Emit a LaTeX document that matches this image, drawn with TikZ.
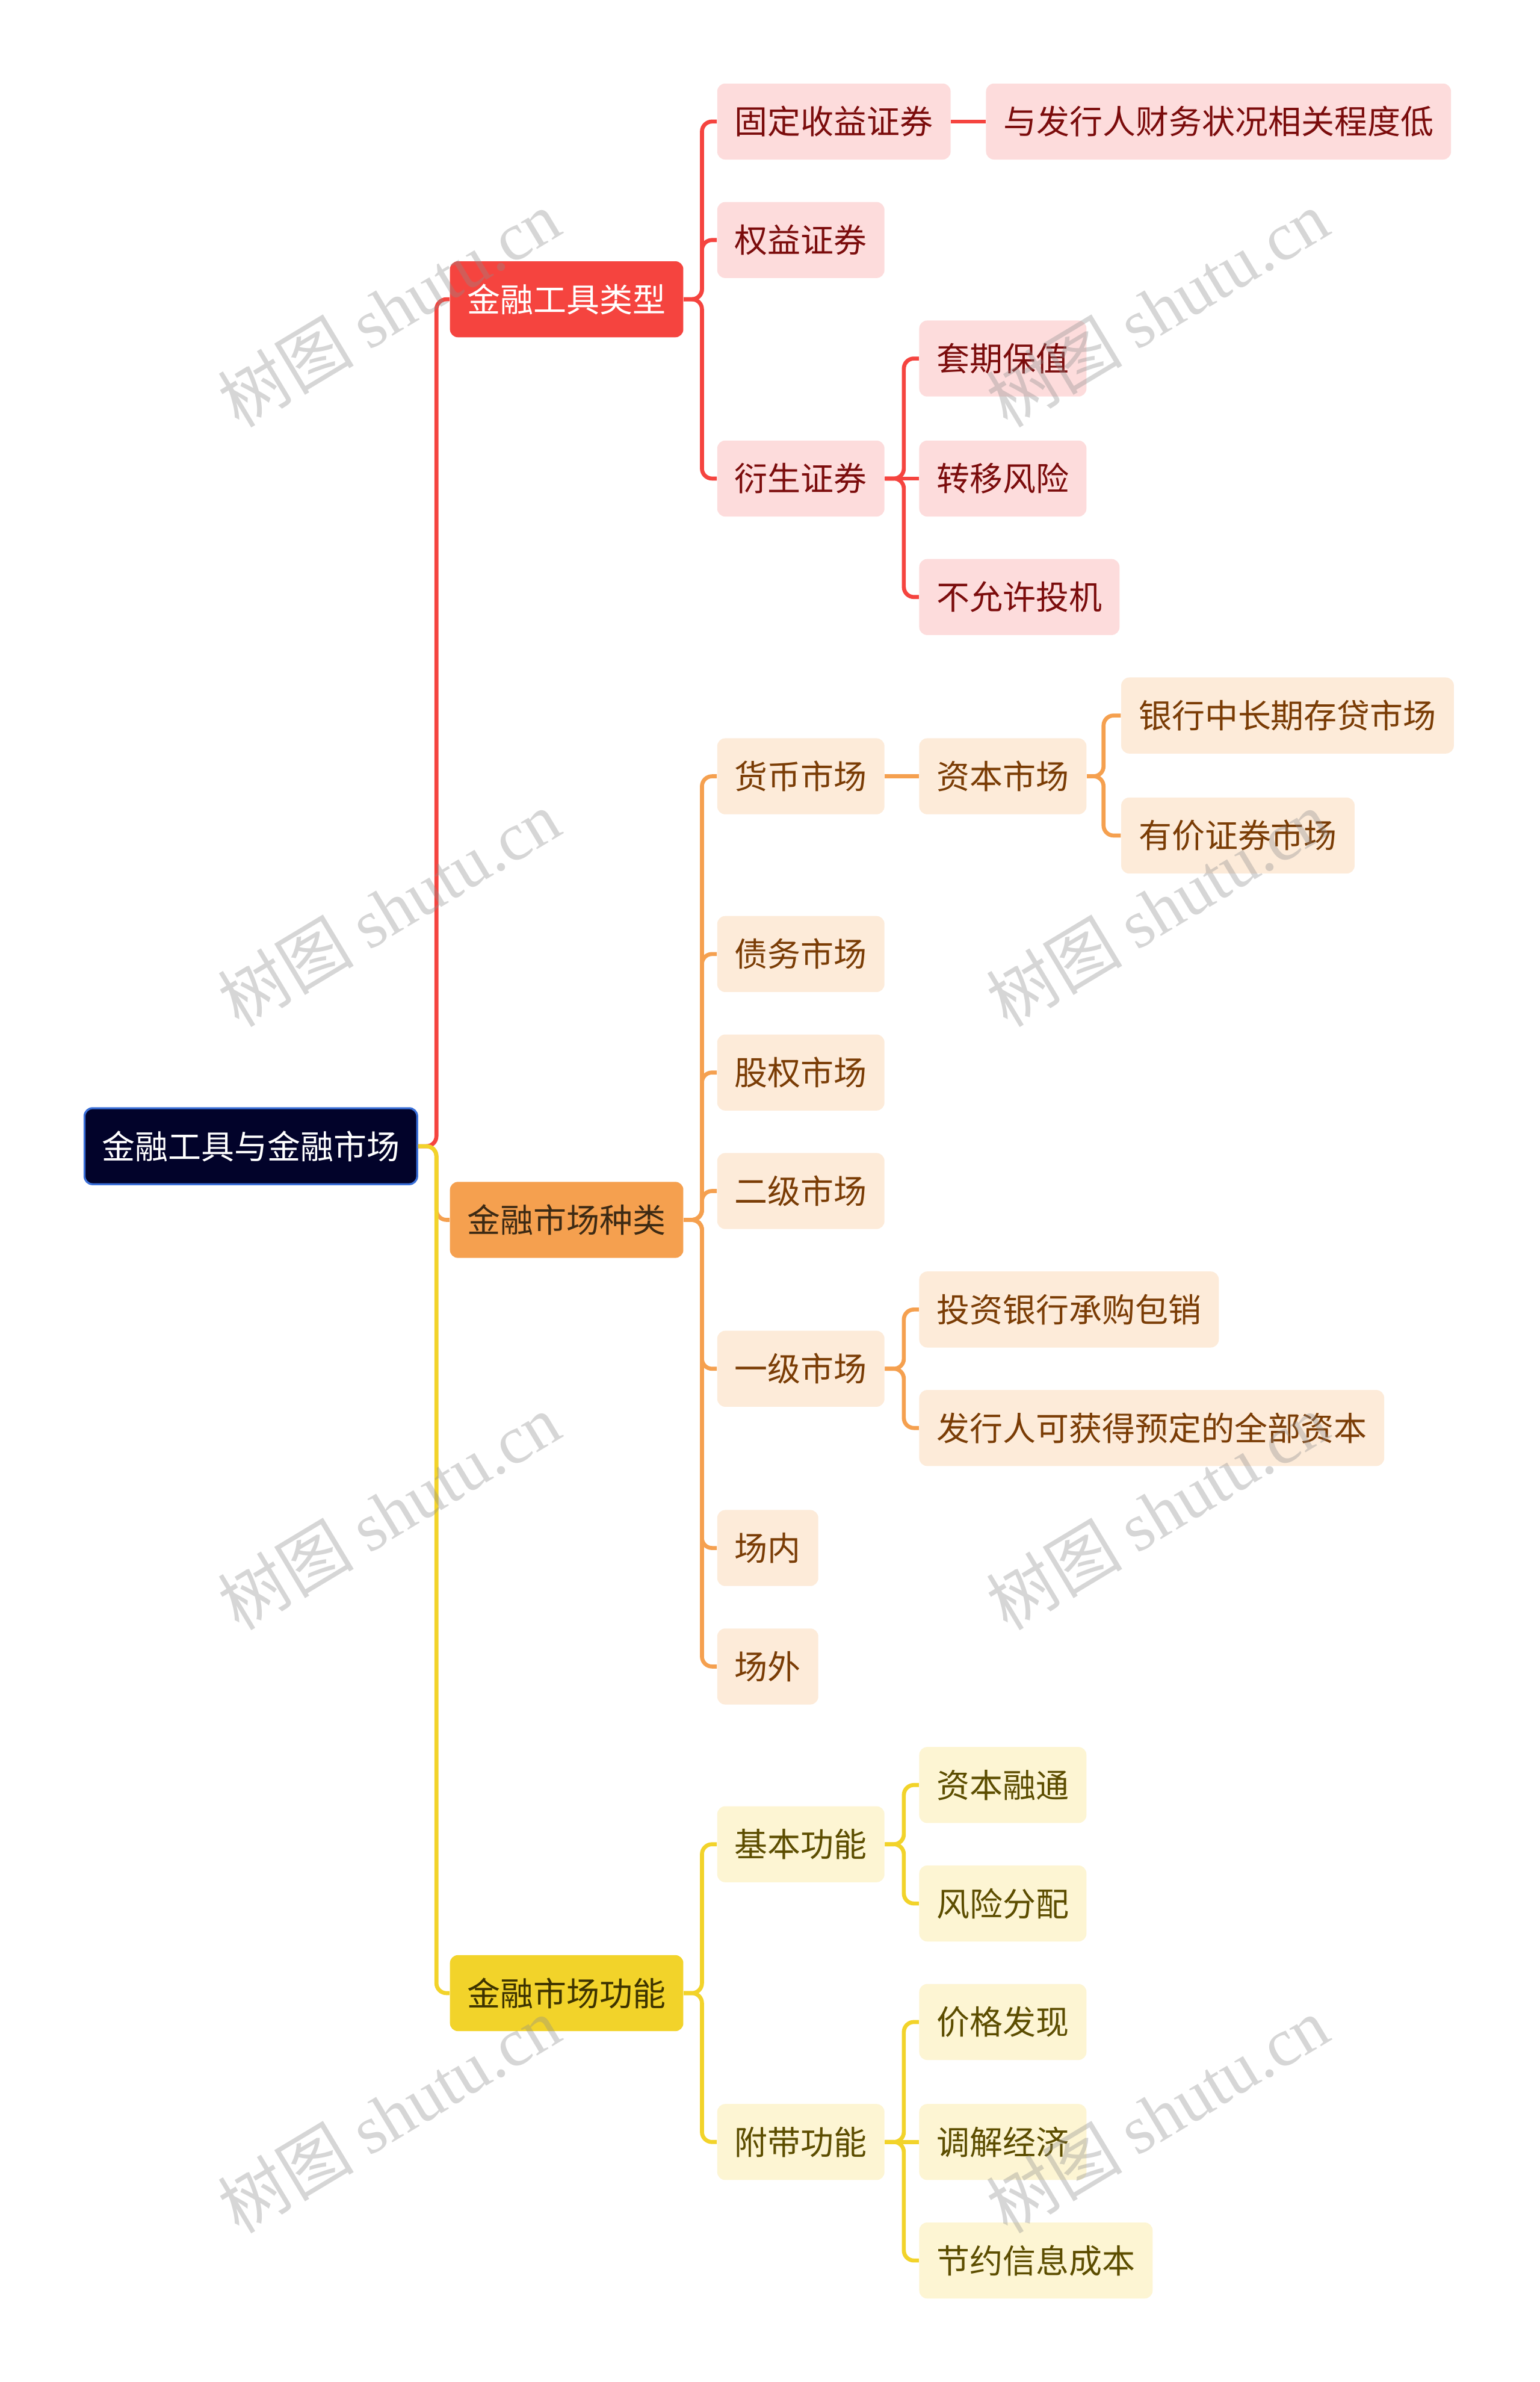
\documentclass[tikz,border=0pt]{standalone}
\usepackage{fontspec}
\setmainfont{Noto Sans CJK SC}
\newfontfamily\wmlatin{Liberation Serif}
\newfontfamily\wmcjk{Noto Sans CJK SC}
\definecolor{rootfill}{HTML}{02032A}
\definecolor{rootborder}{HTML}{3A6FD8}
\definecolor{redmain}{HTML}{F5443F}
\definecolor{redlight}{HTML}{FDDCDC}
\definecolor{redtxt}{HTML}{7B0C0C}
\definecolor{orgmain}{HTML}{F5A04F}
\definecolor{orglight}{HTML}{FDEBD9}
\definecolor{orgtxt}{HTML}{7A3C05}
\definecolor{orgdark}{HTML}{3D2A14}
\definecolor{yelmain}{HTML}{F2D32A}
\definecolor{yellight}{HTML}{FDF5D3}
\definecolor{yeltxt}{HTML}{5C4D00}
\definecolor{yeldark}{HTML}{3D3300}
\begin{document}
\begin{tikzpicture}[x=0.7574pt,y=-0.7574pt,
  box/.style={rounded corners=4pt, minimum height=37.9pt, inner xsep=8.7pt, inner ysep=0pt, anchor=west, font=\fontsize{16.5}{20}\selectfont},
  rootbox/.style={box, fill=rootfill, draw=rootborder, line width=1pt, text=white},
  redone/.style={box, fill=redmain, text=white},
  redtwo/.style={box, fill=redlight, text=redtxt},
  orgone/.style={box, fill=orgmain, text=orgdark},
  orgtwo/.style={box, fill=orglight, text=orgtxt},
  yelone/.style={box, fill=yelmain, text=yeldark},
  yeltwo/.style={box, fill=yellight, text=yeltxt},
  link/.style={line width=2pt, rounded corners=5pt},
  wmark/.style={rotate=31, text=black!45, text opacity=0.35}
]
\useasboundingbox (0,0) rectangle (1014,1568);
\fill[white] (0,0) rectangle (1014,1568);

% nodes
\node[rootbox] (root) at (55,754.5) {金融工具与金融市场};

\node[redone] (ta) at (296,197) {金融工具类型};
\node[orgone] (tb) at (296,803) {金融市场种类};
\node[yelone] (tc) at (296,1312) {金融市场功能};

% red group
\node[redtwo] (a1) at (472,80) {固定收益证券};
\node[redtwo] (a1x) at (649,80) {与发行人财务状况相关程度低};
\node[redtwo] (a2) at (472,158) {权益证券};
\node[redtwo] (a3) at (472,315) {衍生证券};
\node[redtwo] (a31) at (605,236) {套期保值};
\node[redtwo] (a32) at (605,315) {转移风险};
\node[redtwo] (a33) at (605,393) {不允许投机};

% orange group
\node[orgtwo] (b1) at (472,511) {货币市场};
\node[orgtwo] (b1x) at (605,511) {资本市场};
\node[orgtwo] (b1x1) at (738,471) {银行中长期存贷市场};
\node[orgtwo] (b1x2) at (738,550) {有价证券市场};
\node[orgtwo] (b2) at (472,628) {债务市场};
\node[orgtwo] (b3) at (472,706) {股权市场};
\node[orgtwo] (b4) at (472,784) {二级市场};
\node[orgtwo] (b5) at (472,901) {一级市场};
\node[orgtwo] (b51) at (605,862) {投资银行承购包销};
\node[orgtwo] (b52) at (605,940) {发行人可获得预定的全部资本};
\node[orgtwo] (b6) at (472,1019) {场内};
\node[orgtwo] (b7) at (472,1097) {场外};

% yellow group
\node[yeltwo] (c1) at (472,1214) {基本功能};
\node[yeltwo] (c11) at (605,1175) {资本融通};
\node[yeltwo] (c12) at (605,1253) {风险分配};
\node[yeltwo] (c2) at (472,1410) {附带功能};
\node[yeltwo] (c21) at (605,1331) {价格发现};
\node[yeltwo] (c22) at (605,1410) {调解经济};
\node[yeltwo] (c23) at (605,1488) {节约信息成本};

% root connectors
\draw[link, redmain] (root.east) -- ++(12,0) |- (ta.west);
\draw[link, orgmain] (root.east) -- ++(12,0) |- (tb.west);
\draw[link, yelmain] (root.east) -- ++(12,0) |- (tc.west);

% red connectors
\foreach \c in {a1,a2,a3}
  \draw[link, redmain] (ta.east) -- ++(12,0) |- (\c.west);
\draw[link, redmain] (a1.east) -- (a1x.west);
\draw[link, redmain] (a3.east) -- ++(12.5,0) |- (a31.west);
\draw[link, redmain] (a3.east) -- ++(12.5,0) |- (a33.west);
\draw[link, redmain] (a3.east) -- (a32.west);

% orange connectors
\foreach \c in {b1,b2,b3,b4,b5,b6,b7}
  \draw[link, orgmain] (tb.east) -- ++(12,0) |- (\c.west);
\draw[link, orgmain] (b1.east) -- (b1x.west);
\draw[link, orgmain] (b1x.east) -- ++(11,0) |- (b1x1.west);
\draw[link, orgmain] (b1x.east) -- ++(11,0) |- (b1x2.west);
\draw[link, orgmain] (b5.east) -- ++(12.5,0) |- (b51.west);
\draw[link, orgmain] (b5.east) -- ++(12.5,0) |- (b52.west);

% yellow connectors
\foreach \c in {c1,c2}
  \draw[link, yelmain] (tc.east) -- ++(12,0) |- (\c.west);
\draw[link, yelmain] (c1.east) -- ++(12.5,0) |- (c11.west);
\draw[link, yelmain] (c1.east) -- ++(12.5,0) |- (c12.west);
\draw[link, yelmain] (c2.east) -- ++(12.5,0) |- (c21.west);
\draw[link, yelmain] (c2.east) -- ++(12.5,0) |- (c23.west);
\draw[link, yelmain] (c2.east) -- (c22.west);

% watermarks
\foreach \wx in {256,762}
  \foreach \wy in {203,598,995,1392}
    \node[wmark] (wm-\wx-\wy) at (\wx,\wy) {\fontsize{34}{40}\selectfont\wmcjk 树图\ \wmlatin shutu.cn};
\end{tikzpicture}
\end{document}
